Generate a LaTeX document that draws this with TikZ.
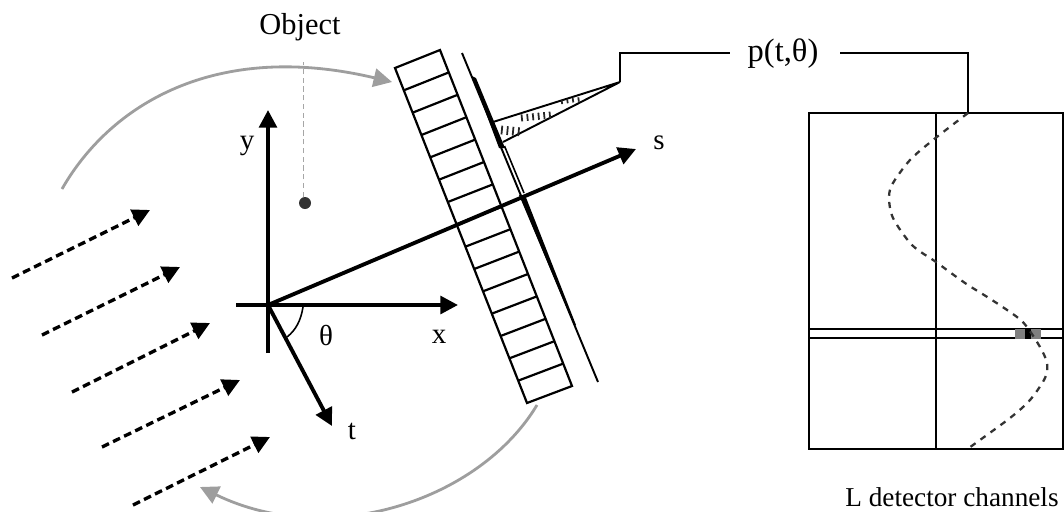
\documentclass[tikz,border=0pt]{standalone}
\usepackage{fontspec}
\setmainfont{Liberation Serif}
\usetikzlibrary{arrows.meta,calc}

\begin{document}
\begin{tikzpicture}[
    x=0.02cm,
    y=-0.02cm,
    font=\fontsize{16.5}{19}\selectfont,
    >={Triangle[length=10pt,width=10pt]},
    axis/.style={line width=2.2pt,->},
    ray/.style={line width=1.9pt,dash pattern=on 4.4pt off 2.6pt,->},
    sweep/.style={draw=black!38,line width=1.6pt,-{Triangle[length=10.5pt,width=10.5pt]}},
    frame/.style={line width=1.25pt},
    cell/.style={line width=1.25pt},
    label/.style={inner sep=0pt},
]
\clip (0,0) rectangle (1064,511);

% rotating source
\draw[sweep] (62,189) .. controls (110,105) and (215,40) .. (392,82);
\draw[sweep] (537,405) .. controls (480,500) and (330,550) .. (200,487);

% incoming rays
\foreach \xa/\ya/\xb/\yb [count=\i] in {12/278/150/210, 42/335/180/267, 72/392/210/323, 102/447/240/380, 133/505/270/437}
    \draw[ray] (\xa,\ya) coordinate (ray\i) -- (\xb,\yb);

% object
\node[label] (object) at (300,27) {\fontsize{17.3}{20}\selectfont Object};
\fill[black!80] (305,203) circle (6);
\coordinate (dot) at (303,197);
\draw[black!35,thin,densely dashed] (dot) -- (303,62);

% axes
\coordinate (origin) at (268,305);
\draw[axis] (268,353) -- (268,110);
\draw[axis] (236,305) -- (458,305);
\draw[axis] (origin) -- (332,426);
\draw[line width=0.9pt] (303,307) .. controls (301,320) and (296,330) .. (287,337);
\node[label] (ylab) at (247,146) {y};
\node[label] (xlab) at (439,337) {x};
\node[label] (tlab) at (352,431) {t};
\node[label] (thetalab) at (326,335) {θ};

% detector array
\coordinate (arrTL) at (395,68);
\coordinate (arrTR) at (440,50);
\coordinate (arrBL) at (527,403);
\coordinate (arrBR) at (572,386);
\draw[cell] (arrTL) -- (arrTR) -- (arrBR) -- (arrBL) -- cycle;
\foreach \i in {1,...,14}
    \draw[cell] ($(arrTL)!\i/15!(arrBL)$) -- ($(arrTR)!\i/15!(arrBR)$);

% profile on the detector
\draw[line width=1.1pt] (462,53) -- (598,382);
\draw[line width=1.1pt] (493,122) -- (620,82) -- (503,142);
\draw[black!85,line width=5pt,dash pattern=on 1pt off 2.2pt] (501,130) -- (522,132);
\draw[black!85,line width=4pt,dash pattern=on 1pt off 2.2pt] (521,118) -- (551,115);
\draw[black!85,line width=2.5pt,dash pattern=on 1pt off 2.2pt] (561,102) -- (582,99);
\fill (472,76) -- (476,78) -- (505,148) -- (499,148) -- cycle;
\draw[line width=0.9pt] (504.5,146) -- (524,193);
\fill (519,195) -- (525,195) -- (576,325) -- (574,325) -- cycle;

\draw[axis] (origin) -- (636,149);
\node[label] (slab) at (659,143) {s};

% measured line
\node[label] (plab) at (783,54) {\fontsize{18.5}{21}\selectfont p(t,θ)};
\coordinate (apex) at (620,82);
\coordinate (peak) at (968,113);
\draw[frame] (apex) -- (620,53) -- (730,53);
\draw[frame] (840,53) -- (968,53) -- (peak);

% sinogram
\draw[frame] (809,113) rectangle (1063,449);
\draw[frame] (936,113) -- (936,449);
\draw[frame] (809,329) -- (1063,329);
\draw[frame] (809,338) -- (1063,338);
\fill[black!50] (1015,329) rectangle (1041,339);
\fill (1025,329) rectangle (1031,339);
\draw[black!80,line width=1.3pt,dash pattern=on 3.5pt off 3.5pt] plot[smooth] coordinates {
    (968,113) (933,140) (910,160) (893,183) (889,197) (893,218) (912,245) (936,262)
    (965,283) (992,300) (1017,317) (1027,327) (1040,347) (1047,363) (1045,378) (1030,400) (1010,418) (973,445) (966,450)};
\node[label] (channels) at (952,497) {\fontsize{15.5}{18}\selectfont L detector channels};
\end{tikzpicture}
\end{document}
